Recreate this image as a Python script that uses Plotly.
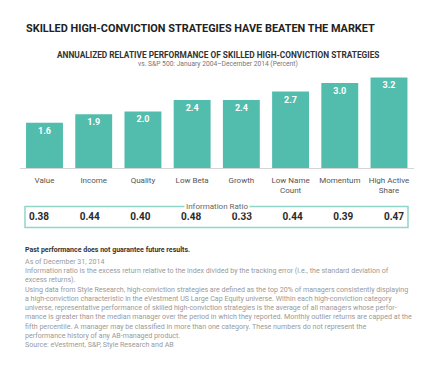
import plotly.graph_objects as go

categories = ["Value", "Income", "Quality", "Low Beta", "Growth", "Low Name<br>Count", "Momentum", "High Active<br>Share"]
performance = [1.6, 1.9, 2.0, 2.4, 2.4, 2.7, 3.0, 3.2]
info_ratio = [0.38, 0.44, 0.40, 0.48, 0.33, 0.44, 0.39, 0.47]

title = "SKILLED HIGH-CONVICTION STRATEGIES HAVE BEATEN THE MARKET"
chart_title = "ANNUALIZED RELATIVE PERFORMANCE OF SKILLED HIGH-CONVICTION STRATEGIES"
chart_subtitle = "vs. S&P 500: January 2004\u2013December 2014 (Percent)"
box_title = "Information Ratio"
note_bold = "Past performance does not guarantee future results."
note_lines = [
    "As of December 31, 2014",
    "Information ratio is the excess return relative to the index divided by the tracking error (i.e., the standard deviation of",
    "excess returns).",
    "Using data from Style Research, high-conviction strategies are defined as the top 20% of managers consistently displaying",
    "a high-conviction characteristic in the eVestment US Large Cap Equity universe. Within each high-conviction category",
    "universe, representative performance of skilled high-conviction strategies is the average of all managers whose perfor-",
    "mance is greater than the median manager over the period in which they reported. Monthly outlier returns are capped at the",
    "fifth percentile. A manager may be classified in more than one category. These numbers do not represent the",
    "performance history of any AB-managed product.",
    "Source: eVestment, S&P, Style Research and AB",
]

# page is rendered with an 8px body margin
OFF = 8
W, H = 435 - OFF, 367 - OFF
TEAL = "#52bdac"
FONT = "Roboto"

def px_x(x):
    return (x - OFF) / W

def px_y(y):
    return 1 - (y - OFF) / H

fig = go.Figure()
fig.add_trace(go.Bar(
    x=categories, y=performance,
    marker=dict(color=TEAL, line=dict(width=0)),
    text=[f"{v:.1f}" for v in performance],
    textposition="inside", insidetextanchor="end",
    textfont=dict(color="white", size=9, family=FONT),
    texttemplate="<b>%{text}</b>",
    hoverinfo="skip",
    xaxis="x", yaxis="y",
))
fig.add_trace(go.Scatter(
    x=list(range(len(info_ratio))), y=[0.5] * len(info_ratio),
    mode="text",
    text=[f"<b>{v:.2f}</b>" for v in info_ratio],
    textfont=dict(color="#2a2a2a", size=10, family=FONT),
    hoverinfo="skip",
    xaxis="x2", yaxis="y2",
))

fig.update_layout(
    width=W, height=H,
    margin=dict(l=0, r=0, t=0, b=0),
    paper_bgcolor="white", plot_bgcolor="white",
    showlegend=False,
    bargap=0.25,
    font=dict(family=FONT),
    xaxis=dict(
        domain=[px_x(19.9), px_x(413.6)],
        showgrid=False, zeroline=False,
        showline=True, linecolor="#d5d5d5", linewidth=1,
        ticks="", tickfont=dict(size=8, color="#555555", family=FONT),
        ticklabelstandoff=4,
        fixedrange=True,
    ),
    yaxis=dict(
        domain=[px_y(168), px_y(70)],
        range=[0, 3.463],
        visible=False, fixedrange=True,
    ),
    xaxis2=dict(
        domain=[px_x(25), px_x(408)],
        range=[-0.276, 7.276],
        visible=False, fixedrange=True,
        anchor="y2",
    ),
    yaxis2=dict(
        domain=[px_y(227), px_y(207)],
        range=[0, 1],
        visible=False, fixedrange=True,
        anchor="x2",
    ),
)

fig.add_shape(type="rect", xref="paper", yref="paper",
              x0=px_x(25), x1=px_x(408), y0=px_y(227.5), y1=px_y(206.5),
              line=dict(color="#8fd6c9", width=1.5), fillcolor="rgba(0,0,0,0)")

fig.add_annotation(x=px_x(217), y=px_y(206), xref="paper", yref="paper",
                   text=box_title, showarrow=False, bgcolor="white",
                   font=dict(size=8, color="#666666", family=FONT),
                   xanchor="center", yanchor="middle", borderpad=1)

fig.add_annotation(x=px_x(24), y=px_y(28), xref="paper", yref="paper",
                   text=f"<b>{title}</b>", showarrow=False,
                   font=dict(size=10.9, color="#222222", family=FONT),
                   xanchor="left", yanchor="middle")
fig.add_annotation(x=px_x(217.5), y=px_y(55), xref="paper", yref="paper",
                   text=f"<b>{chart_title}</b>", showarrow=False,
                   font=dict(size=8.3, color="#333333", family=FONT),
                   xanchor="center", yanchor="middle")
fig.add_annotation(x=px_x(217.5), y=px_y(64), xref="paper", yref="paper",
                   text=chart_subtitle, showarrow=False,
                   font=dict(size=6.7, color="#777777", family=FONT),
                   xanchor="center", yanchor="middle")

fig.add_annotation(x=px_x(23), y=px_y(250), xref="paper", yref="paper",
                   text=f"<b>{note_bold}</b>", showarrow=False,
                   font=dict(size=7, color="#333333", family=FONT),
                   xanchor="left", yanchor="middle")
fig.add_annotation(x=px_x(23), y=px_y(255), xref="paper", yref="paper",
                   text="<br>".join(note_lines), showarrow=False, align="left",
                   font=dict(size=7.1, color="#9a9a9a", family=FONT),
                   xanchor="left", yanchor="top")

fig.write_html("out.html")
